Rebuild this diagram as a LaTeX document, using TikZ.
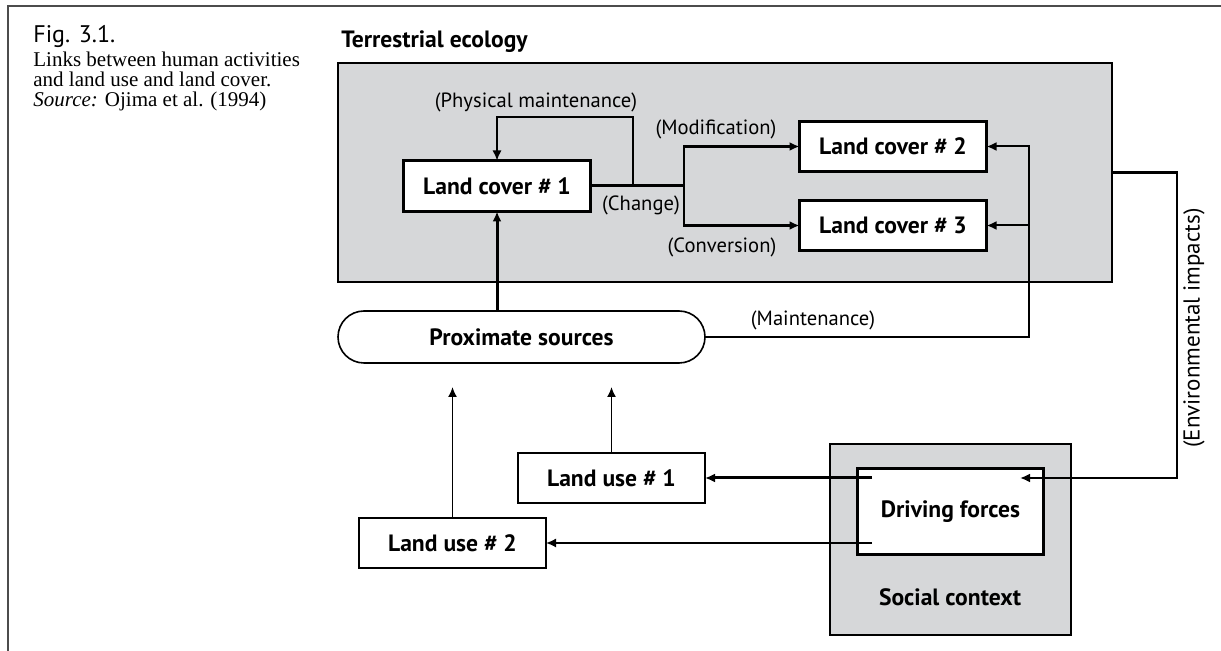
\documentclass[tikz,border=0pt]{standalone}
\usepackage{fontspec}
\setmainfont{Liberation Serif}
\setsansfont{PT Sans}
\usetikzlibrary{shapes, arrows.meta, positioning}
\definecolor{panelgray}{RGB}{214,215,217}

\begin{document}
\begin{tikzpicture}[x=0.5pt, y=-0.5pt, >={Latex[length=5pt,width=4.5pt]}, font=\sffamily]

\tikzstyle{block} = [draw, fill=white, shape=rectangle, outer sep=0pt, minimum height=25.5pt, minimum width=93.5pt, line width=1.5pt, font=\sffamily\bfseries\fontsize{11.8}{13}\selectfont]
\tikzstyle{useblock} = [block, line width=1pt, minimum height=25pt]
\tikzstyle{panel} = [draw, fill=panelgray, shape=rectangle, outer sep=0pt, line width=1.3pt]
\tikzstyle{note} = [font=\sffamily\fontsize{10.3}{12}\selectfont, inner sep=0pt]
\tikzstyle{captext} = [anchor=base west, inner sep=0pt, font=\rmfamily\fontsize{10.5}{12}\selectfont]

\useasboundingbox (0,0) rectangle (1221,651);
\draw[line width=1pt, black!70] (8,651) -- (8,6) -- (1221,6);

%Caption
\node[captext, font=\sffamily\fontsize{12}{13}\selectfont] (fig) at (33,43) {Fig. 3.1.};
\node[captext] (cap1) at (33,67) {Links between human activities};
\node[captext] (cap2) at (33,87) {and land use and land cover.};
\node[captext] (cap3) at (33,107) {\textit{Source:} Ojima et al. (1994)};

%Creating Blocks and Connection Nodes
\node[anchor=base west, inner sep=0pt, font=\sffamily\bfseries\fontsize{11.8}{13}\selectfont] (title) at (341,48) {Terrestrial ecology};
\node[panel, minimum width=387pt, minimum height=109.5pt] (terr) at (725,172.5) {};
\node[block] (lc1) at (497,186) {Land cover \# 1};
\node[block, minimum height=25pt] (lc2) at (893,146.5) {Land cover \# 2};
\node[block, minimum height=25pt] (lc3) at (893,225.5) {Land cover \# 3};
\coordinate (split) at (684,186);
\coordinate (pm) at (633,186);
\coordinate (pmtop) at (633,117);

\node[draw, fill=white, rounded corners=13pt, line width=0.8pt, minimum width=183.5pt, minimum height=26pt, outer sep=0pt, font=\sffamily\bfseries\fontsize{11.8}{13}\selectfont] (prox) at (521.5,337) {Proximate sources};
\coordinate (mnt) at (1029,337);

\node[useblock] (lu1) at (611.5,478) {Land use \# 1};
\node[useblock] (lu2) at (452.5,543) {Land use \# 2};
\coordinate (pu1) at (611.5,387);
\coordinate (pu2) at (452.5,387);

\node[panel, line width=1pt, minimum width=120.5pt, minimum height=95.5pt] (social) at (950.5,539.5) {};
\node[block, minimum width=93pt, minimum height=43pt] (df) at (950.5,511.5) {Driving forces};
\node[font=\sffamily\bfseries\fontsize{11.8}{13}\selectfont] (sctext) at (950,597) {Social context};
\coordinate (df1) at (872,478);
\coordinate (df2) at (872,543);
\coordinate (envr) at (1177,478);
\coordinate (envtip) at (1020,478);

%Labels
\node[note] (lpm) at (536,102) {(Physical maintenance)};
\node[note] (lmod) at (716,129) {(Modification)};
\node[note] (lchg) at (641,205) {(Change)};
\node[note] (lconv) at (722,247) {(Conversion)};
\node[note] (lmnt) at (813,320) {(Maintenance)};
\node[note, rotate=90, font=\sffamily\fontsize{11.5}{13}\selectfont] (lenv) at (1194,328) {(Environmental impacts)};

%Conecting Blocks
\draw[line width=1.5pt] (lc1) -- (split);
\draw[->, line width=1.2pt] (split) |- (lc2);
\draw[->, line width=1.2pt] (split) |- (lc3);
\draw[->, line width=0.7pt] (pm) -- (pmtop) -| (lc1);
\draw[->, line width=1.5pt] (prox.north -| lc1) -- (lc1);
\draw[->, line width=1pt] (prox) -- (mnt) |- (lc2);
\draw[->, line width=1pt] (mnt |- lc3) -- (lc3);
\draw[->, line width=1.1pt] (terr.east) -| (envr) -- (envtip);
\draw[->, line width=1.5pt] (df1) -- (lu1);
\draw[->, line width=0.8pt] (df2) -- (lu2);
\draw[->, line width=0.8pt] (lu1) -- (pu1);
\draw[->, line width=0.8pt] (lu2) -- (pu2);
\end{tikzpicture}
\end{document}
